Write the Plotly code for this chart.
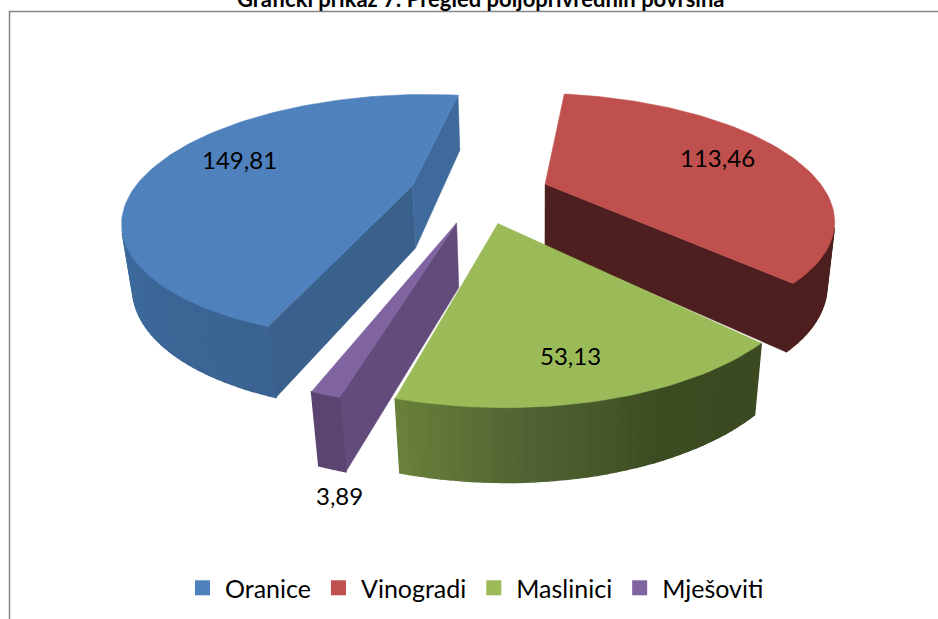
import math
import plotly.graph_objects as go

# ---- chart data ----
categories = ["Oranice", "Vinogradi", "Maslinici", "Mješoviti"]
values = [149.81, 113.46, 53.13, 3.89]
title_text = "Grafički prikaz 7: Pregled poljoprivrednih površina"

# ---- styling ----
top_colors = ["#4F81BD", "#C0504D", "#9BBB59", "#8064A2"]
wall_start = ["#3A608C", "#4D1F1E", "#4A5C2C", "#634B7B"]
wall_end = ["#3F6A9C", "#4D1F1E", "#4A5C2C", "#5C4470"]
# rim colour stops, as fraction along the slice -> colour
rim_stops = [
    [(0, "#3A6391"), (0.25, "#3D6A9C"), (0.5, "#3C6799"), (1, "#3F6EA3")],
    [(0, "#4D1F1E"), (1, "#4D1F1E")],
    [(0, "#3B4A21"), (0.35, "#3D4D22"), (0.7, "#526433"), (1, "#68803A")],
    [(0, "#5C4470"), (1, "#5C4470")],
]
paint_order = [0, 1, 3, 2]
label_pos = [(239, 159), (717, 157), (570, 355), (339, 495)]

# ---- pie geometry ----
first_angle = 200.0      # clockwise from the far direction, degrees
explode = 0.25
cx, S, yh, H, p = 479.5, 281.0, -270.0, 463.0, 0.255
Vx, Vy, t0 = 540.0, 2700.0, 0.025
W, HT = 938, 619


def proj(X, Y, down=0.0):
    w = 1 + p * Y
    x = cx + S * X / w
    y = yh + H / w
    t = t0 * down / w ** 0.7
    return x + t * (Vx - x), y + t * (Vy - y)


def hexrgb(c):
    return tuple(int(c[i:i + 2], 16) for i in (1, 3, 5))


def ramp(stops, f):
    for (a, ca), (b, cb) in zip(stops, stops[1:]):
        if f <= b:
            k = (f - a) / (b - a)
            ra, rb = hexrgb(ca), hexrgb(cb)
            return "rgb(%d,%d,%d)" % tuple(ra[i] + (rb[i] - ra[i]) * k for i in range(3))
    return stops[-1][1]


def poly(pts, color, lw=0.5):
    xs = [q[0] for q in pts] + [pts[0][0]]
    ys = [q[1] for q in pts] + [pts[0][1]]
    return go.Scatter(x=xs, y=ys, mode="lines", fill="toself", fillcolor=color,
                      line=dict(color=color, width=lw), hoverinfo="skip", showlegend=False)


def front(q):
    s = 0
    for a, b in zip(q, q[1:] + q[:1]):
        s += a[0] * b[1] - b[0] * a[1]
    return s < 0


fig = go.Figure()
total = sum(values)
starts = []
ang = first_angle
for v in values:
    starts.append(ang)
    ang += v / total * 360

for i in paint_order:
    a0 = starts[i]
    a1 = a0 + values[i] / total * 360
    mid = math.radians((a0 + a1) / 2)
    ox, oy = explode * math.sin(mid), explode * math.cos(mid)
    n = max(4, int((a1 - a0) / 1.5))
    arc = []
    for k in range(n + 1):
        th = math.radians(a0 + (a1 - a0) * k / n)
        arc.append((ox + math.sin(th), oy + math.cos(th)))
    apex = (ox, oy)
    walls = [(apex, arc[0], wall_start[i]), (arc[-1], apex, wall_end[i])]
    for a, b, col in walls:
        q = [proj(*a), proj(*b), proj(*b, 1), proj(*a, 1)]
        if front(q):
            fig.add_trace(poly(q, col))
    for k in range(n):
        q = [proj(*arc[k]), proj(*arc[k + 1]), proj(*arc[k + 1], 1), proj(*arc[k], 1)]
        if front(q):
            fig.add_trace(poly(q, ramp(rim_stops[i], k / max(1, n - 1)), lw=1.4))
    fig.add_trace(poly([proj(*apex)] + [proj(*a) for a in arc], top_colors[i]))

for name, col in zip(categories, top_colors):
    fig.add_trace(go.Scatter(x=[None], y=[None], mode="markers", name=name,
                             marker=dict(symbol="square", size=15, color=col)))

annotations = [dict(xref="paper", yref="paper", x=481 / W, y=1, yshift=17,
                    text="<b>%s</b>" % title_text, showarrow=False,
                    font=dict(family="Lato", size=22, color="#000"), xanchor="center", yanchor="top")]
for v, (x, y) in zip(values, label_pos):
    annotations.append(dict(x=x, y=y, text=("%.2f" % v).replace(".", ","), showarrow=False,
                            font=dict(family="Lato", size=24, color="#000"),
                            xanchor="center", yanchor="middle"))

fig.update_layout(
    width=W, height=HT, margin=dict(l=0, r=0, t=0, b=0),
    paper_bgcolor="white", plot_bgcolor="white",
    xaxis=dict(range=[0, W], visible=False, fixedrange=True),
    yaxis=dict(range=[HT, 0], visible=False, fixedrange=True),
    annotations=annotations,
    shapes=[dict(type="rect", x0=9.5, y0=11.5, x1=W + 5, y1=HT + 5,
                 line=dict(color="#868686", width=1.5), layer="below")],
    legend=dict(orientation="h", x=180 / W, y=0.05, xanchor="left", yanchor="middle",
                itemwidth=35,
                font=dict(family="Lato", size=25, color="#000"), bgcolor="rgba(0,0,0,0)"),
)
fig.write_html("out.html", config={"displayModeBar": False},
               post_script="document.body.style.margin='0';document.body.style.overflow='hidden';")
